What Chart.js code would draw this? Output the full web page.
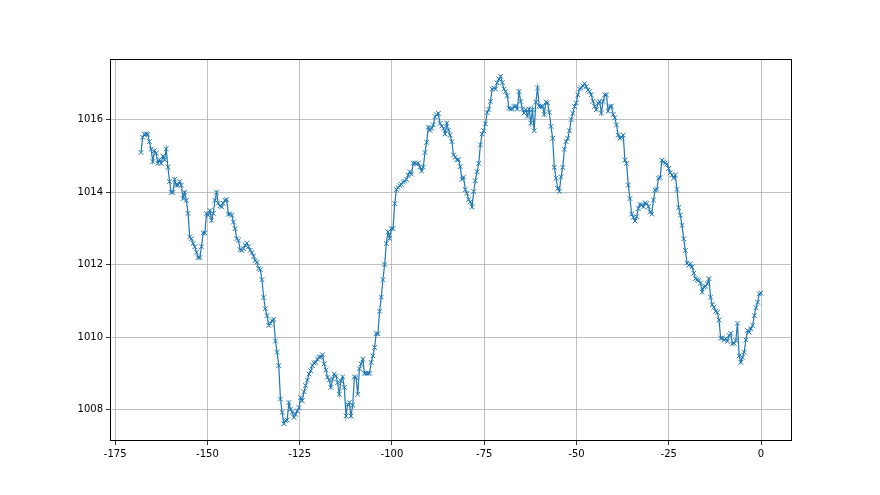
<!DOCTYPE html>
<html>
<head>
<meta charset="utf-8">
<script src="https://cdn.jsdelivr.net/npm/chart.js@4/dist/chart.umd.min.js"></script>
<style>
  html, body { margin: 0; padding: 0; background: #fff; }
  #wrap { width: 880px; height: 495px; }
</style>
</head>
<body>
<div id="wrap"><canvas id="pressureChart"></canvas></div>
<script>
// pressure readings, oldest first, evenly spaced from START_HOUR to END_HOUR
const START_HOUR = -168;
const END_HOUR = 0;
const pressure = [
  1015.1, 1015.52, 1015.6, 1015.62, 1015.6, 1015.4, 1015.19, 1014.85, 1015.15, 1015.08,
  1014.8, 1014.9, 1014.8, 1015.0, 1014.9, 1015.2, 1014.7, 1014.3, 1014.0, 1014.0,
  1014.36, 1014.2, 1014.2, 1014.3, 1014.2, 1013.83, 1014.0, 1013.78, 1013.42, 1012.77,
  1012.72, 1012.59, 1012.5, 1012.35, 1012.2, 1012.2, 1012.5, 1012.88, 1012.88, 1013.42,
  1013.37, 1013.5, 1013.23, 1013.42, 1013.78, 1014.0, 1013.7, 1013.63, 1013.6, 1013.7,
  1013.78, 1013.8, 1013.4, 1013.4, 1013.37, 1013.18, 1013.0, 1012.72, 1012.68, 1012.42,

  1012.4, 1012.45, 1012.54, 1012.6, 1012.5, 1012.4, 1012.34, 1012.24, 1012.12, 1012.07,
  1011.9, 1011.87, 1011.59, 1011.1, 1010.79, 1010.6, 1010.33, 1010.38, 1010.46, 1010.5,
  1009.9, 1009.59, 1009.22, 1008.3, 1007.93, 1007.62, 1007.7, 1007.72, 1008.2, 1008.02,
  1007.93, 1007.79, 1007.88, 1007.97, 1008.06, 1008.34, 1008.25, 1008.5, 1008.67, 1008.82,
  1008.99, 1009.08, 1009.22, 1009.29, 1009.31, 1009.4, 1009.45, 1009.46, 1009.52, 1009.27,
  1009.1, 1008.9, 1008.82, 1008.62, 1008.85, 1008.99, 1008.94, 1008.75, 1008.43,

  1008.8, 1008.91, 1008.62, 1007.83, 1008.15, 1008.2, 1007.83, 1008.13, 1008.91, 1008.89,
  1008.43, 1009.13, 1009.27, 1009.4, 1009.01, 1009.01, 1009.01, 1009.01, 1009.31, 1009.49,
  1009.72, 1010.1, 1010.1, 1010.72, 1011.11, 1011.59, 1012.01, 1012.59, 1012.91, 1012.73,
  1013.0, 1013.0, 1013.69, 1014.08, 1014.13, 1014.19, 1014.22, 1014.29, 1014.31, 1014.35,
  1014.47, 1014.57, 1014.5, 1014.8, 1014.81, 1014.78, 1014.81, 1014.7, 1014.59, 1014.7,
  1015.1, 1015.38, 1015.8, 1015.71, 1015.77, 1015.86, 1016.09, 1016.14, 1016.18, 1015.9,
  1015.83,

  1015.77, 1015.61, 1015.91, 1015.72, 1015.58, 1015.4, 1015.03, 1014.97, 1014.9, 1014.9,
  1014.71, 1014.36, 1014.42, 1014.08, 1013.97, 1013.8, 1013.74, 1013.6, 1014.02, 1014.32,
  1014.57, 1014.8, 1015.31, 1015.61, 1015.7, 1015.89, 1016.2, 1016.29, 1016.51, 1016.85,
  1016.88, 1016.85, 1017.02, 1017.13, 1017.2, 1017.03, 1016.85, 1016.78, 1016.66, 1016.32,
  1016.3, 1016.3, 1016.37, 1016.38, 1016.3, 1016.78, 1016.51, 1016.3, 1016.19, 1016.28,
  1016.1, 1016.3, 1015.91, 1016.28, 1015.7, 1016.49, 1016.88, 1016.38, 1016.37,

  1016.37, 1016.15, 1016.49, 1016.47, 1016.21, 1015.82, 1015.49, 1014.69, 1014.39, 1014.11,
  1014.03, 1014.43, 1014.69, 1015.19, 1015.4, 1015.49, 1015.7, 1016.01, 1016.18, 1016.37,
  1016.47, 1016.69, 1016.85, 1016.88, 1016.94, 1017.0, 1016.92, 1016.82, 1016.78, 1016.69,
  1016.51, 1016.37, 1016.28, 1016.47, 1016.51, 1016.19, 1016.51, 1016.69, 1016.69, 1016.24,
  1016.37, 1016.38, 1016.15, 1016.06, 1015.86, 1015.58, 1015.49, 1015.52, 1015.58, 1014.89,
  1014.8, 1014.2, 1013.83, 1013.4, 1013.31, 1013.21, 1013.33, 1013.55, 1013.67,

  1013.65, 1013.6, 1013.71, 1013.69, 1013.61, 1013.46, 1013.4, 1013.79, 1014.06, 1014.08,
  1014.39, 1014.41, 1014.89, 1014.84, 1014.81, 1014.78, 1014.66, 1014.54, 1014.48, 1014.39,
  1014.48, 1014.08, 1013.58, 1013.37, 1013.09, 1012.72, 1012.4, 1012.05, 1011.99, 1012.03,
  1011.94, 1011.77, 1011.62, 1011.59, 1011.57, 1011.5, 1011.25, 1011.39, 1011.41, 1011.48,
  1011.62, 1011.11, 1010.9, 1010.83, 1010.72, 1010.69, 1010.48, 1009.98, 1009.98, 1009.93,
  1009.96, 1009.89, 1010.05, 1010.11, 1009.82, 1009.84, 1009.91, 1010.39, 1009.49, 1009.31,
  1009.45, 1009.59, 1009.93, 1010.19, 1010.14, 1010.24, 1010.33, 1010.6, 1010.82, 1010.97,
  1011.2, 1011.22
];
const xTicks = [-175, -150, -125, -100, -75, -50, -25, 0];
const yTicks = [1008, 1010, 1012, 1014, 1016];

const step = (END_HOUR - START_HOUR) / (pressure.length - 1);
const points = pressure.map((p, i) => ({ x: START_HOUR + i * step, y: p }));

// matplotlib style 5% margins
const yMin = Math.min(...pressure), yMax = Math.max(...pressure);
const xPad = (END_HOUR - START_HOUR) * 0.05, yPad = (yMax - yMin) * 0.05;

const frame = {
  id: 'frame',
  afterDraw(chart) {
    const a = chart.chartArea, c = chart.ctx;
    c.save();
    c.strokeStyle = '#000';
    c.lineWidth = 1;
    c.strokeRect(a.left + 0.5, a.top + 0.5, a.right - a.left - 1, a.bottom - a.top - 1);
    c.restore();
  }
};

Chart.defaults.font.family = 'DejaVu Sans';
Chart.defaults.font.size = 10;
Chart.defaults.color = '#000';

new Chart(document.getElementById('pressureChart'), {
  type: 'line',
  data: {
    datasets: [{
      data: points,
      borderColor: '#1f77b4',
      borderWidth: 1.2,
      pointStyle: 'crossRot',
      pointRadius: 3.3,
      pointBorderColor: '#1f77b4',
      pointBorderWidth: 1,
      tension: 0
    }]
  },
  options: {
    responsive: true,
    maintainAspectRatio: false,
    animation: false,
    layout: { padding: { top: 59, right: 88, left: 0, bottom: 0 } },
    plugins: { legend: { display: false }, tooltip: { enabled: false } },
    scales: {
      x: {
        type: 'linear',
        min: START_HOUR - xPad,
        max: END_HOUR + xPad,
        afterBuildTicks: axis => { axis.ticks = xTicks.map(v => ({ value: v })); },
        afterFit: scale => { scale.height = 54; },
        grid: { color: '#b0b0b0', lineWidth: 0.8, tickColor: '#000', tickLength: 4 },
        border: { display: false },
        ticks: { padding: 3, maxRotation: 0, callback: v => String(v) }
      },
      y: {
        type: 'linear',
        min: yMin - yPad,
        max: yMax + yPad,
        afterBuildTicks: axis => { axis.ticks = yTicks.map(v => ({ value: v })); },
        afterFit: scale => { scale.width = 110; },
        grid: { color: '#b0b0b0', lineWidth: 0.8, tickColor: '#000', tickLength: 4 },
        border: { display: false },
        ticks: { padding: 3, callback: v => String(v) }
      }
    }
  },
  plugins: [frame]
});
</script>
</body>
</html>
